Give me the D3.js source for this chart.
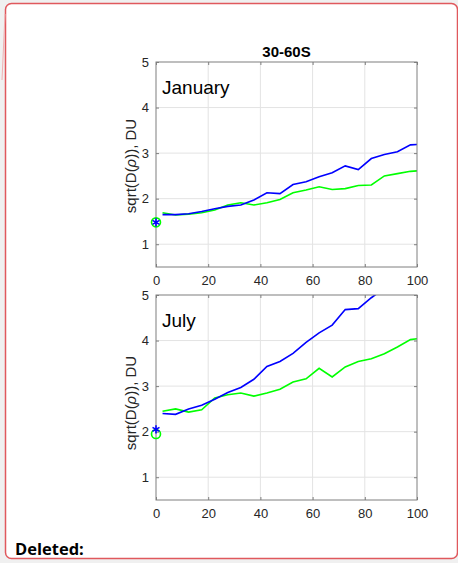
<!DOCTYPE html>
<html>
<head>
<meta charset="utf-8">
<script src="https://cdn.jsdelivr.net/npm/d3@7"></script>
<style>
  html, body { margin: 0; padding: 0; background: #f0f0f0; }
  svg { display: block; }
  .tick-label { font-family: "Liberation Sans", Arial, sans-serif; font-size: 13px; fill: #262626; }
</style>
</head>
<body>
<div id="chart"></div>
<script>
// Chart values
const xVals = [2.5, 7.5, 12.5, 17.5, 22.5, 27.5, 32.5, 37.5, 42.5, 47.5, 52.5,
               57.5, 62.5, 67.5, 72.5, 77.5, 82.5, 87.5, 92.5, 97.5, 100];

const janBlue = [1.65, 1.65, 1.67, 1.72, 1.78, 1.83, 1.86, 1.97, 2.13, 2.11, 2.31,
                 2.37, 2.48, 2.57, 2.72, 2.64, 2.88, 2.97, 3.03, 3.18, 3.19];
const janGreen = [1.69, 1.64, 1.66, 1.69, 1.75, 1.86, 1.91, 1.86, 1.91, 1.98, 2.13,
                  2.19, 2.26, 2.20, 2.22, 2.29, 2.30, 2.50, 2.55, 2.60, 2.61];

const julBlue = [2.40, 2.38, 2.50, 2.58, 2.71, 2.86, 2.97, 3.15, 3.43, 3.54, 3.72,
                 3.96, 4.17, 4.34, 4.68, 4.70, 4.94, 5.15, 5.30, 5.50, 5.60];
const julGreen = [2.45, 2.50, 2.43, 2.48, 2.74, 2.81, 2.85, 2.78, 2.85, 2.93, 3.09,
                  3.16, 3.39, 3.20, 3.42, 3.54, 3.60, 3.71, 3.86, 4.02, 4.04];

// values at x = 0 (blue asterisk, green circle)
const janStart = { blue: 1.48, green: 1.48 };
const julStart = { blue: 2.05, green: 1.95 };

const xTicks = [0, 20, 40, 60, 80, 100];
const yTicks = [1, 2, 3, 4, 5];

const W = 458, H = 563;

const svg = d3.select('#chart')
  .append('svg')
  .attr('width', W)
  .attr('height', H);

// comment balloon frame
svg.append('rect')
  .attr('x', 5.5).attr('y', 3.5)
  .attr('width', 452).attr('height', 555)
  .attr('rx', 6)
  .attr('fill', '#ffffff')
  .attr('stroke', '#e0585d')
  .attr('stroke-width', 1.5);

// faint connector line on the left
svg.append('line')
  .attr('x1', 5).attr('y1', 14)
  .attr('x2', 2).attr('y2', 80)
  .attr('stroke', '#f0b0b2')
  .attr('stroke-width', 1);

svg.append('text')
  .text('Deleted:')
  .attr('x', 15).attr('y', 555)
  .style('font-family', '"Open Sans", "Liberation Sans", sans-serif')
  .style('font-weight', 'bold')
  .style('font-size', '16.5px')
  .style('fill', '#000');

const left = 156, right = 417;
const x = d3.scaleLinear().domain([0, 100]).range([left, right]);

function drawPanel(id, top, bottom, blue, green, start, label, labelY) {
  const y = d3.scaleLinear().domain([0.5, 5]).range([bottom, top]);
  const g = svg.append('g').attr('id', id);

  // grid
  g.selectAll('.gx').data(xTicks.slice(1, -1)).enter().append('line')
    .attr('x1', d => x(d)).attr('x2', d => x(d))
    .attr('y1', top).attr('y2', bottom)
    .attr('stroke', '#e3e3e3').attr('stroke-width', 1);
  g.selectAll('.gy').data(yTicks.slice(0, -1)).enter().append('line')
    .attr('x1', left).attr('x2', right)
    .attr('y1', d => y(d)).attr('y2', d => y(d))
    .attr('stroke', '#e3e3e3').attr('stroke-width', 1);

  // lines, clipped to the axes box
  g.append('clipPath').attr('id', id + '-clip')
    .append('rect')
    .attr('x', left).attr('y', top)
    .attr('width', right - left).attr('height', bottom - top);

  const line = d3.line()
    .x((d, i) => x(xVals[i]))
    .y(d => y(d));

  const plot = g.append('g').attr('clip-path', 'url(#' + id + '-clip)');
  plot.append('path').datum(green)
    .attr('d', line).attr('fill', 'none')
    .attr('stroke', '#00ff00').attr('stroke-width', 1.6);
  plot.append('path').datum(blue)
    .attr('d', line).attr('fill', 'none')
    .attr('stroke', '#0000ff').attr('stroke-width', 1.6);

  // axes box
  g.append('rect')
    .attr('x', left).attr('y', top)
    .attr('width', right - left).attr('height', bottom - top)
    .attr('fill', 'none')
    .attr('stroke', '#7f7f7f').attr('stroke-width', 1);

  // inner ticks
  const xAxisB = d3.axisBottom(x).tickValues(xTicks).tickSize(-3).tickFormat(d3.format('d')).tickPadding(9);
  const yAxisL = d3.axisLeft(y).tickValues(yTicks).tickSize(-3).tickFormat(d3.format('d')).tickPadding(7);
  const xAx = g.append('g').attr('transform', 'translate(0,' + bottom + ')').call(xAxisB);
  const yAx = g.append('g').attr('transform', 'translate(' + left + ',0)').call(yAxisL);
  [xAx, yAx].forEach(ax => {
    ax.select('.domain').remove();
    ax.selectAll('line').attr('stroke', '#7f7f7f');
    ax.selectAll('text').attr('class', 'tick-label').attr('fill', '#262626');
  });
  g.append('g').attr('transform', 'translate(0,' + top + ')')
    .call(d3.axisTop(x).tickValues(xTicks).tickSize(-3).tickFormat(''))
    .call(a => { a.select('.domain').remove(); a.selectAll('line').attr('stroke', '#7f7f7f'); });
  g.append('g').attr('transform', 'translate(' + right + ',0)')
    .call(d3.axisRight(y).tickValues(yTicks).tickSize(-3).tickFormat(''))
    .call(a => { a.select('.domain').remove(); a.selectAll('line').attr('stroke', '#7f7f7f'); });

  // markers at x = 0
  g.append('circle')
    .attr('cx', x(0)).attr('cy', y(start.green)).attr('r', 4.5)
    .attr('fill', 'none').attr('stroke', '#00ff00').attr('stroke-width', 1.6);
  g.append('path')
    .attr('d', d3.symbol().type(d3.symbolAsterisk).size(45)())
    .attr('transform', 'translate(' + x(0) + ',' + y(start.blue) + ')')
    .attr('stroke', '#0000ff').attr('stroke-width', 1.6).attr('fill', 'none');

  // month label
  g.append('text')
    .text(label)
    .attr('x', 162).attr('y', top + 32)
    .style('font-family', '"Liberation Sans", Arial, sans-serif')
    .style('font-size', '19px')
    .style('fill', '#000');

  // y label
  const yl = g.append('text')
    .attr('transform', 'translate(136,' + labelY + ') rotate(-90)')
    .attr('text-anchor', 'middle')
    .style('font-family', '"Liberation Sans", Arial, sans-serif')
    .style('font-size', '15px')
    .style('fill', '#262626');
  yl.append('tspan').text('sqrt(D(');
  yl.append('tspan').text('\u03C1').style('font-style', 'italic');
  yl.append('tspan').text(')), DU');
}

drawPanel('jan', 62, 267, janBlue, janGreen, janStart, 'January', 166);
drawPanel('jul', 295, 500, julBlue, julGreen, julStart, 'July', 403);

// title
svg.append('text')
  .text('30-60S')
  .attr('x', (left + right) / 2).attr('y', 57)
  .attr('text-anchor', 'middle')
  .style('font-family', '"Liberation Sans", Arial, sans-serif')
  .style('font-weight', 'bold')
  .style('font-size', '15px')
  .style('fill', '#000');
</script>
</body>
</html>
